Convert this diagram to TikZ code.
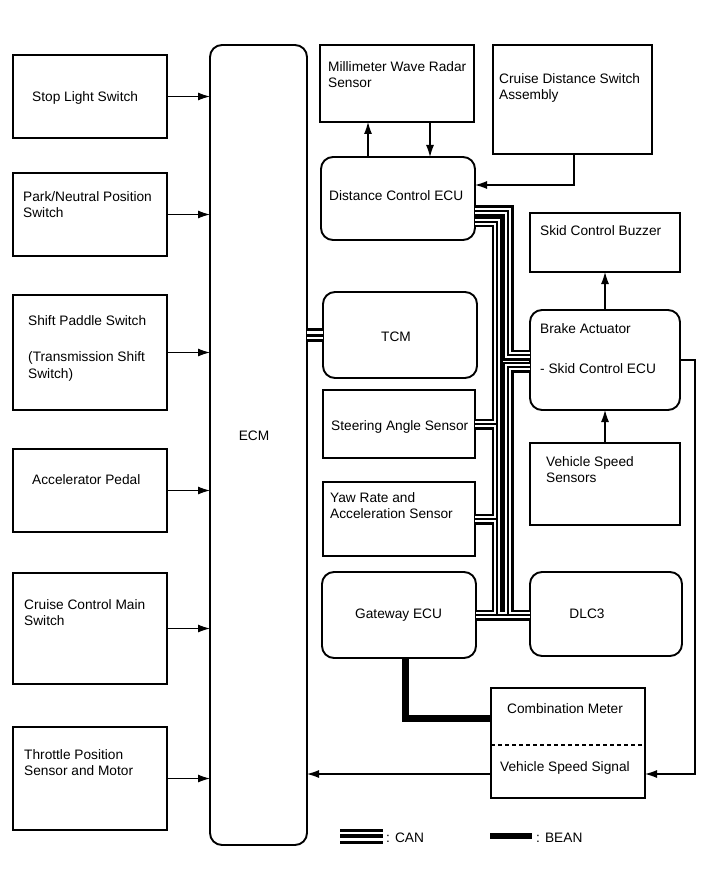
\documentclass[tikz,border=0pt]{standalone}
\usepackage{fontspec}
\setmainfont{Liberation Sans}
\usetikzlibrary{arrows.meta}
\begin{document}
\begin{tikzpicture}[x=1pt,y=-1pt,
  box/.style={draw, line width=1.2pt, fill=white, inner sep=0pt, outer sep=0pt, anchor=north west},
  rbox/.style={box, line width=1.9pt, rounded corners=12pt},
  lbl/.style={anchor=north west, inner sep=0pt, font=\fontsize{13.7}{16.8}\selectfont, align=left},
  clbl/.style={lbl, anchor=center},
  arr/.style={line width=1.1pt, -{Latex[length=12pt,width=8pt]}},
  canA/.style={line width=11pt, black, line cap=butt, line join=miter},
  canB/.style={line width=6pt, white, line cap=butt, line join=miter},
  canC/.style={line width=2.4pt, black, line cap=butt, line join=miter},
  bean/.style={line width=7pt, black, line join=miter}
]
\useasboundingbox (0,0) rectangle (713,882);
\newcommand\bx[6]{\node[#6, minimum width={(#4-#2)*1pt}, minimum height={(#5-#3)*1pt}] (#1) at (#2,#3) {};}
% left column
\bx{stop}{13}{55}{167}{138}{box}
\bx{park}{13}{173}{167}{256}{box}
\bx{shift}{13}{295}{167}{410}{box}
\bx{accel}{13}{449}{167}{532}{box}
\bx{cruise}{13}{573}{167}{684}{box}
\bx{throttle}{13}{727}{167}{830}{box}
% ECM
\bx{ecm}{210}{45}{307}{845}{rbox}
% right part
\bx{radar}{320}{45}{474}{122}{box}
\bx{cds}{493}{45}{652}{154}{box}
\bx{dce}{321}{157}{475}{240}{rbox}
\bx{buzzer}{530}{213}{680}{272}{box}
\bx{brake}{530}{310}{680}{410}{rbox}
\bx{vss}{530}{443}{680}{525}{box}
\bx{tcm}{323}{292}{477}{378}{rbox}
\bx{steer}{323}{390}{475}{458}{box}
\bx{yaw}{323}{482}{475}{556}{box}
\bx{gw}{322}{572}{476}{658}{rbox}
\bx{dlc}{530}{572}{682}{656}{rbox}
\bx{comb}{491}{688}{645}{798}{box}
\draw[line width=1.2pt, dash pattern=on 4pt off 3pt] (comb.west |- 0,745) coordinate (dl) -- (dl -| comb.east);
% labels
\node[lbl] (t1) at (32,91) {Stop Light Switch};
\node[lbl] (t2) at (23,191) {Park/Neutral Position\\Switch};
\node[lbl] (t3) at (28,315) {Shift Paddle Switch\\[19.5pt](Transmission Shift\\Switch)};
\node[lbl] (t4) at (32,474) {Accelerator Pedal};
\node[lbl] (t5) at (24,599) {Cruise Control Main\\Switch};
\node[lbl] (t6) at (24,749) {Throttle Position\\Sensor and Motor};
\node[clbl] (t7) at (254,436) {ECM};
\node[lbl] (t8) at (328,61) {Millimeter Wave Radar\\Sensor};
\node[lbl] (t9) at (499,73) {Cruise Distance Switch\\Assembly};
\node[lbl] (t10) at (329,190) {Distance Control ECU};
\node[lbl] (t11) at (540,225) {Skid Control Buzzer};
\node[lbl] (t12) at (540,323) {Brake Actuator\\[24pt]- Skid Control ECU};
\node[lbl] (t13) at (546,456) {Vehicle Speed\\Sensors};
\node[clbl] (t14) at (396,337) {TCM};
\node[lbl] (t15) at (331,420) {Steering Angle Sensor};
\node[lbl] (t16) at (330,492) {Yaw Rate and\\Acceleration Sensor};
\node[lbl] (t17) at (355,609) {Gateway ECU};
\node[clbl] (t18) at (587,614) {DLC3};
\node[lbl] (t19) at (507,703) {Combination Meter};
\node[lbl] (t20) at (500,761) {Vehicle Speed Signal};
% arrows left -> ECM
\foreach \b in {stop,park,shift,accel,cruise,throttle}
  \draw[arr] (\b.east) -- (\b.east -| ecm.west);
% radar <-> DCE
\draw[arr] ([xshift=47pt]dce.north west) -- ([xshift=47pt]dce.north west |- radar.south);
\draw[arr] ([xshift=110pt]radar.south west) -- ([xshift=110pt]radar.south west |- dce.north);
% cruise distance -> DCE
\coordinate (cdsd) at ([xshift=81pt]cds.south west);
\draw[arr] (cdsd) |- ([yshift=13.5pt]dce.east);
% brake -> buzzer, vss -> brake
\draw[arr] (brake.north -| buzzer.south) -- (buzzer.south);
\draw[arr] (vss.north) -- (vss.north |- brake.south);
% brake -> comb meter
\coordinate (bk) at (695,0);
\coordinate (vsig) at ([yshift=-31pt]comb.east);
\draw[arr] (brake.east) -- (brake.east -| bk) -- (bk |- vsig) -- (vsig);
% comb -> ECM
\draw[arr] (comb.west |- vsig) -- (vsig -| ecm.east);
% BEAN
\draw[bean] ([xshift=6pt]gw.south) -- ([xshift=6pt]gw.south |- 0,718) coordinate (bc) -- (bc -| comb.west);
% CAN buses
\coordinate (tr1) at (508,0);
\coordinate (tr2) at (497,0);
\newcommand\canall[1]{%
  \draw[#1] ([yshift=-12.5pt]dce.east) -- ([yshift=-12.5pt]dce.east -| tr1) -- ([yshift=5pt]brake.west -| tr1) -- ([yshift=5pt]brake.west);
  \draw[#1] ([yshift=-7pt]brake.west) -- ([yshift=-7pt]brake.west -| tr1) -- (gw.east -| tr1);
  \draw[#1] ([yshift=-23.5pt]dce.east) -- ([yshift=-23.5pt]dce.east -| tr2) -- (gw.east -| tr2);
  \draw[#1] (gw.east) -- (gw.east -| dlc.west);
  \draw[#1] (steer.east) -- (steer.east -| tr2);
  \draw[#1] (yaw.east) -- (yaw.east -| tr2);
}
\canall{canA}
\canall{canB}
\canall{canC}
% ECM - TCM
\draw[line width=14pt, black] (tcm.west -| ecm.east) -- (tcm.west);
\draw[line width=8pt, white] (tcm.west -| ecm.east) -- (tcm.west);
\draw[line width=3pt, black] (tcm.west -| ecm.east) -- (tcm.west);
% legend
\coordinate (lc1) at (340,836);
\coordinate (lc2) at (383,836);
\draw[line width=15pt, black] (lc1) -- (lc2);
\draw[line width=9pt, white] (lc1) -- (lc2);
\draw[line width=3.4pt, black] (lc1) -- (lc2);
\node[lbl, anchor=west] (t21) at (386,838) {: CAN};
\coordinate (lb1) at (490,836);
\coordinate (lb2) at (532,836);
\draw[line width=6.5pt, black] (lb1) -- (lb2);
\node[lbl, anchor=west] (t22) at (536,838) {: BEAN};
\end{tikzpicture}
\end{document}
